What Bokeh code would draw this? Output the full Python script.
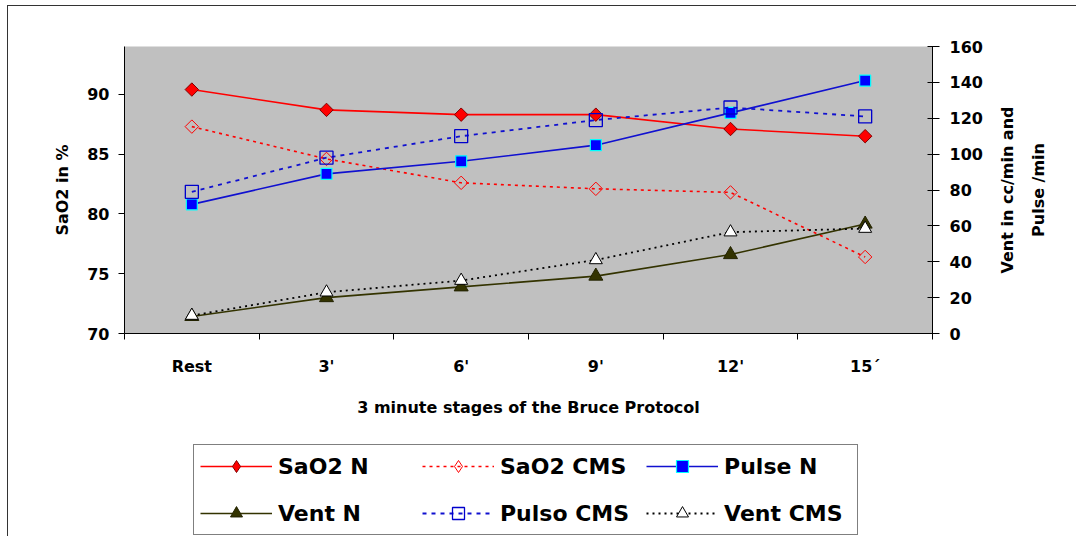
import math
from bokeh.plotting import figure
from bokeh.layouts import column, row
from bokeh.models import (Range1d, LinearAxis, FixedTicker, Legend, LegendItem)
from bokeh.embed import file_html
from bokeh.resources import INLINE

# ---- data ----
categories = ["Rest", "3'", "6'", "9'", "12'", "15´"]
sao2_n = [90.4, 88.7, 88.3, 88.3, 87.1, 86.5]
sao2_cms = [87.3, 84.6, 82.6, 82.1, 81.8, 76.4]
pulse_n = [72, 89, 96, 105, 123, 141]
pulso_cms = [79, 98, 110, 119, 126, 121]
vent_n = [9.5, 20, 26, 32, 44, 61]
vent_cms = [10, 23, 29.5, 41, 56.5, 58.5]
left_ticks = [70, 75, 80, 85, 90]
right_ticks = [0, 20, 40, 60, 80, 100, 120, 140, 160]
right_label_lines = ["Vent in cc/min and", "Pulse /min"]

xs = [i + 0.5 for i in range(len(categories))]
bounds = [float(i) for i in range(len(categories) + 1)]

AX_FONT = "'DejaVu Sans', sans-serif"
LEG_FONT = "'DejaVu Sans', sans-serif"


def style_axis(a):
    a.major_label_text_font = AX_FONT
    a.major_label_text_font_size = "16px"
    a.major_label_text_font_style = "bold"
    a.major_label_text_color = "black"
    a.axis_label_text_font = AX_FONT
    a.axis_label_text_font_size = "16px"
    a.axis_label_text_font_style = "bold"
    a.axis_label_text_color = "black"


p = figure(width=986, height=424, output_backend="svg", toolbar_location=None,
           x_range=Range1d(0, len(categories)), y_range=Range1d(70, 94),
           min_border_left=116, min_border_right=62, min_border_top=40,
           min_border_bottom=97, background_fill_color="#C0C0C0",
           border_fill_color="white", outline_line_color=None)
p.xgrid.visible = False
p.ygrid.visible = False
p.extra_y_ranges = {"right": Range1d(0, 160)}

# x axis
xa = p.xaxis[0]
xa.ticker = FixedTicker(ticks=xs, minor_ticks=bounds)
xa.major_label_overrides = {x: c for x, c in zip(xs, categories)}
xa.major_tick_out = 0
xa.major_tick_in = 0
xa.minor_tick_out = 6
xa.minor_tick_in = 0
xa.minor_tick_line_color = "black"
xa.axis_line_color = "black"
xa.major_label_standoff = 17
xa.axis_label = "3 minute stages of the Bruce Protocol"
xa.axis_label_standoff = 19

# left axis
ya = p.yaxis[0]
ya.ticker = FixedTicker(ticks=left_ticks)
ya.major_tick_out = 6
ya.major_tick_in = 0
ya.minor_tick_line_color = None
ya.major_label_standoff = 9
ya.axis_label = "SaO2 in %"
ya.axis_label_standoff = 12

# right axis (ticks only)
ra = LinearAxis(y_range_name="right", ticker=FixedTicker(ticks=right_ticks),
                major_tick_out=7, major_tick_in=5, minor_tick_line_color=None,
                major_label_standoff=10)
p.add_layout(ra, "right")

for a in (xa, ya, ra):
    style_axis(a)
    a.axis_line_color = "black"
    a.major_tick_line_color = "black"

# ---- series styles ----
DIAMOND = math.pi / 4
styles = {
    "sao2_n": (dict(line_color="#FF0000", line_width=1.6),
               dict(marker="square", angle=DIAMOND, size=9.5, fill_color="#FF0000",
                    line_color="#800000", line_width=1)),
    "sao2_cms": (dict(line_color="#FF0000", line_width=1.6, line_dash="3 4"),
                 dict(marker="square", angle=DIAMOND, size=9.5, fill_color=None,
                      line_color="#FF0000", line_width=1)),
    "pulse_n": (dict(line_color="#1010D0", line_width=1.6),
                dict(marker="square", size=11, fill_color="#0000FF", line_color="#00FFFF", line_width=1.2)),
    "vent_n": (dict(line_color="#333300", line_width=1.6),
               dict(marker="triangle", size=14, fill_color="#333300", line_color="#222200", line_width=1)),
    "pulso_cms": (dict(line_color="#1010D0", line_width=1.8, line_dash="4 5"),
                  dict(marker="square", size=13, fill_color=None, line_color="#0000CC", line_width=1.3)),
    "vent_cms": (dict(line_color="black", line_width=1.8, line_dash="2 4"),
                 dict(marker="triangle", size=13, fill_color="white", line_color="black", line_width=1)),
}
# legend samples ignore marker rotation, so the diamonds use the diamond marker there
legend_marker_override = {
    "sao2_n": dict(marker="diamond", angle=0),
    "sao2_cms": dict(marker="diamond", angle=0),
}
series = {"sao2_n": (sao2_n, "default"), "sao2_cms": (sao2_cms, "default"),
          "pulse_n": (pulse_n, "right"), "vent_n": (vent_n, "right"),
          "pulso_cms": (pulso_cms, "right"), "vent_cms": (vent_cms, "right")}
labels = {"sao2_n": "SaO2 N", "sao2_cms": "SaO2 CMS", "pulse_n": "Pulse N",
          "vent_n": "Vent N", "pulso_cms": "Pulso CMS", "vent_cms": "Vent CMS"}
draw_order = ["sao2_n", "sao2_cms", "pulse_n", "pulso_cms", "vent_n", "vent_cms"]
for k in draw_order:
    vals, rng = series[k]
    ls, ms = styles[k]
    p.line(xs, vals, y_range_name=rng, **ls)
    p.scatter(xs, vals, y_range_name=rng, **ms)

# ---- right-hand axis title (two lines, reading bottom to top) ----
p3 = figure(width=82, height=424, output_backend="svg", toolbar_location=None,
            x_range=Range1d(0, 1), y_range=Range1d(0, 1),
            x_axis_type=None, y_axis_type=None,
            min_border_left=58, min_border_right=0, min_border_top=40,
            min_border_bottom=97, background_fill_color="white",
            border_fill_color="white", outline_line_color=None)
p3.xgrid.visible = False
p3.ygrid.visible = False
for txt, standoff in [(right_label_lines[1], 10), (right_label_lines[0], 9)]:
    ax = LinearAxis(ticker=FixedTicker(ticks=[]), major_tick_out=0, major_tick_in=0,
                    axis_line_color=None, major_tick_line_color=None,
                    minor_tick_line_color=None, axis_label=txt,
                    axis_label_standoff=standoff)
    style_axis(ax)
    p3.add_layout(ax, "left")

# ---- legend figure ----
p2 = figure(width=1068, height=106, output_backend="svg", toolbar_location=None,
            x_range=Range1d(0, len(categories)), y_range=Range1d(1000, 1001),
            x_axis_type=None, y_axis_type=None,
            min_border_left=116, min_border_right=144, min_border_top=0,
            min_border_bottom=0,
            background_fill_color="white", border_fill_color="white",
            outline_line_color=None)
p2.xgrid.visible = False
p2.ygrid.visible = False
items = []
for k in ["sao2_n", "sao2_cms", "pulse_n", "vent_n", "pulso_cms", "vent_cms"]:
    vals, rng = series[k]
    ls, ms = styles[k]
    ms = dict(ms, **legend_marker_override.get(k, {}))
    r1 = p2.line(xs, vals, **ls)
    r2 = p2.scatter(xs, vals, **ms)
    items.append(LegendItem(label=labels[k], renderers=[r1, r2]))

legend = Legend(items=items, location=(69, 1), orientation="horizontal", ncols=3,
                margin=0, label_text_font=LEG_FONT, label_text_font_size="22px",
                label_text_font_style="bold",
                label_text_color="black", glyph_width=72, glyph_height=30,
                label_standoff=6, label_width=127, spacing=17, padding=6,
                border_line_color="black", border_line_width=1.5,
                background_fill_color="white", background_fill_alpha=1)
p2.add_layout(legend, "center")

layout = column(row(p, p3, spacing=0), p2, spacing=0)
layout.styles = {"border-left": "1.5px solid #333333",
                 "border-top": "1.5px solid #333333",
                 "margin-left": "7px", "margin-top": "5px"}

open("out.html", "w").write(file_html(layout, INLINE))
